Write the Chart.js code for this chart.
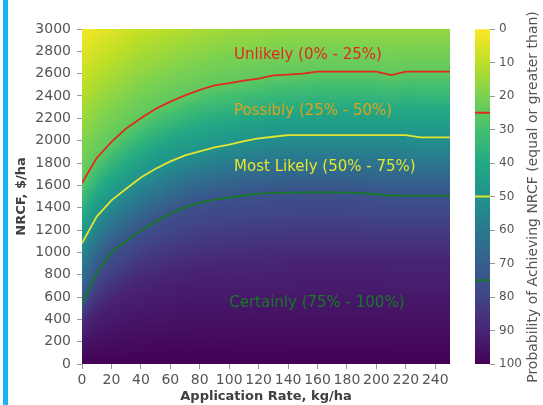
<!DOCTYPE html>
<html>
<head>
<meta charset="utf-8">
<script src="https://cdn.jsdelivr.net/npm/chart.js@4/dist/chart.umd.min.js"></script>
<style>
  html, body { margin: 0; padding: 0; background: #fff; }
  #wrap { position: relative; width: 543px; height: 405px; overflow: hidden; background: #fff; }
  #edge { position: absolute; left: 3px; top: 0; width: 5px; height: 405px; background: #17b6f3; }
  #main { position: absolute; left: 0; top: 0; }
  #cbar { position: absolute; left: 460px; top: 0; }
</style>
</head>
<body>
<div id="wrap">
  <div id="edge"></div>
  <canvas id="main" width="460" height="405"></canvas>
  <canvas id="cbar" width="83" height="405"></canvas>
</div>
<script>
// Application rate (kg/ha) at which each level curve is given
const RATE = [0, 10, 20, 30, 40, 50, 60, 70, 80, 90, 100, 110, 120, 130, 140, 150, 160, 170, 180, 190, 200, 210, 220, 230, 240, 250];

// NRCF ($/ha) reached with a given probability, per application rate
const NRCF_P25 = [1620, 1845, 1990, 2110, 2200, 2285, 2350, 2405, 2455, 2495, 2515, 2537, 2555, 2585, 2592, 2600, 2618, 2618, 2618, 2618, 2618, 2588, 2618, 2618, 2618, 2618];
const NRCF_P50 = [1080, 1320, 1465, 1570, 1670, 1748, 1815, 1868, 1905, 1940, 1965, 1995, 2020, 2035, 2050, 2050, 2050, 2050, 2050, 2050, 2050, 2050, 2050, 2030, 2030, 2030];
const NRCF_P75 = [543, 815, 1006, 1100, 1195, 1275, 1345, 1405, 1445, 1472, 1490, 1508, 1525, 1532, 1535, 1537, 1537, 1537, 1535, 1530, 1520, 1507, 1507, 1507, 1507, 1507];
const NRCF_P90 = [330, 470, 580, 660, 720, 770, 810, 840, 860, 875, 890, 900, 910, 915, 920, 925, 925, 925, 925, 925, 925, 920, 920, 920, 920, 920];
// Probability (%) of reaching the top of the NRCF axis (3000 $/ha)
const PROB_AT_TOP = [1, 3, 5, 7, 9, 10, 11, 12, 13, 14, 15, 15, 15, 16, 16, 16, 16, 16, 16, 16, 16, 16, 16, 16, 16, 16];

// Axis tick values
const X_TICKS = [0, 20, 40, 60, 80, 100, 120, 140, 160, 180, 200, 220, 240];
const Y_TICKS = [0, 200, 400, 600, 800, 1000, 1200, 1400, 1600, 1800, 2000, 2200, 2400, 2600, 2800, 3000];
const CBAR_TICKS = [0, 10, 20, 30, 40, 50, 60, 70, 80, 90, 100];

const X_MAX = 250, Y_MAX = 3000;

Chart.defaults.font.family = "'DejaVu Sans', sans-serif";

// viridis colour map, sampled every 0.1
const VIRIDIS = [
  [68, 1, 84], [72, 36, 117], [65, 68, 135], [53, 95, 141], [42, 120, 142],
  [33, 145, 140], [34, 168, 132], [68, 191, 112], [122, 209, 81], [189, 223, 38], [253, 231, 37]
];
// reversed viridis: 0 % -> yellow, 100 % -> dark purple
function viridisR(p) {
  const t = 1 - Math.max(0, Math.min(100, p)) / 100;
  const f = t * (VIRIDIS.length - 1);
  const i = Math.min(VIRIDIS.length - 2, Math.floor(f));
  const u = f - i;
  const a = VIRIDIS[i], b = VIRIDIS[i + 1];
  const c = a.map((v, k) => Math.round(v + (b[k] - v) * u));
  return `rgb(${c[0]},${c[1]},${c[2]})`;
}

// value of a level curve at an arbitrary rate
function curveAt(vals, x) {
  for (let i = 0; i < RATE.length - 1; i++) {
    if (x <= RATE[i + 1]) {
      const f = (x - RATE[i]) / (RATE[i + 1] - RATE[i]);
      return vals[i] + f * (vals[i + 1] - vals[i]);
    }
  }
  return vals[vals.length - 1];
}

// probability at an NRCF value, between the level curves of one column
function probAt(anchors, yv) {
  for (let i = 0; i < anchors.length - 1; i++) {
    const [y0, p0] = anchors[i], [y1, p1] = anchors[i + 1];
    if (yv <= y1) return p0 + (yv - y0) / (y1 - y0) * (p1 - p0);
  }
  return anchors[anchors.length - 1][1];
}

// filled probability field behind the contour lines
const fieldPlugin = {
  id: 'probabilityField',
  beforeDatasetsDraw(chart) {
    const { ctx, chartArea: a, scales: { x, y } } = chart;
    ctx.save();
    ctx.beginPath();
    ctx.rect(a.left, a.top, a.right - a.left, a.bottom - a.top);
    ctx.clip();
    const dx = 2, dy = 10;
    for (let xv = 0; xv < X_MAX; xv += dx) {
      const xc = xv + dx / 2;
      const anchors = [
        [0, 100],
        [curveAt(NRCF_P90, xc), 90],
        [curveAt(NRCF_P75, xc), 75],
        [curveAt(NRCF_P50, xc), 50],
        [curveAt(NRCF_P25, xc), 25],
        [Y_MAX, curveAt(PROB_AT_TOP, xc)]
      ];
      const px0 = Math.floor(x.getPixelForValue(xv));
      const px1 = Math.ceil(x.getPixelForValue(xv + dx));
      for (let yv = 0; yv < Y_MAX; yv += dy) {
        ctx.fillStyle = viridisR(probAt(anchors, yv + dy / 2));
        const py0 = Math.floor(y.getPixelForValue(yv + dy));
        const py1 = Math.ceil(y.getPixelForValue(yv));
        ctx.fillRect(px0, py0, px1 - px0, py1 - py0);
      }
    }
    ctx.restore();
  }
};

// zone labels placed in data coordinates
const ZONE_LABELS = [
  { text: 'Unlikely (0% - 25%)', x: 103.3, y: 2767, color: '#e02a1e' },
  { text: 'Possibly (25% - 50%)', x: 103.3, y: 2268, color: '#dea21c' },
  { text: 'Most Likely (50% - 75%)', x: 103.3, y: 1761, color: '#e6e62e' },
  { text: 'Certainly (75% - 100%)', x: 100, y: 549, color: '#167a24' }
];
const zoneLabelPlugin = {
  id: 'zoneLabels',
  afterDatasetsDraw(chart) {
    const { ctx, scales: { x, y } } = chart;
    ctx.save();
    ctx.font = "15px 'DejaVu Sans'";
    ctx.textAlign = 'left';
    ctx.textBaseline = 'middle';
    ZONE_LABELS.forEach(l => {
      ctx.fillStyle = l.color;
      ctx.fillText(l.text, x.getPixelForValue(l.x), y.getPixelForValue(l.y));
    });
    ctx.restore();
  }
};

const lineStyle = (label, vals, color) => ({
  label,
  data: RATE.map((r, i) => ({ x: r, y: vals[i] })),
  borderColor: color,
  borderWidth: 1.8,
  pointRadius: 0,
  fill: false,
  tension: 0
});

const plainNumber = v => String(v);

new Chart(document.getElementById('main'), {
  type: 'line',
  data: {
    datasets: [
      lineStyle('25%', NRCF_P25, '#e02a1e'),
      lineStyle('50%', NRCF_P50, '#e2e531'),
      lineStyle('75%', NRCF_P75, '#167a24')
    ]
  },
  options: {
    responsive: false,
    animation: false,
    layout: { padding: { left: 10, top: 29, right: 10, bottom: 0 } },
    plugins: { legend: { display: false }, tooltip: { enabled: false } },
    scales: {
      x: {
        type: 'linear', min: 0, max: X_MAX,
        afterBuildTicks(s) { s.ticks = X_TICKS.map(v => ({ value: v })); },
        afterFit(s) { s.height = 41; },
        ticks: { font: { size: 14 }, color: '#555', padding: 3, maxRotation: 0, callback: plainNumber },
        grid: { drawOnChartArea: false, tickLength: 5, color: '#999' },
        border: { display: false },
        title: { display: true, text: 'Application Rate, kg/ha', font: { size: 13, weight: 'bold' }, color: '#404040', padding: { top: 0, bottom: 1 } }
      },
      y: {
        type: 'linear', min: 0, max: Y_MAX,
        afterBuildTicks(s) { s.ticks = Y_TICKS.map(v => ({ value: v })); },
        afterFit(s) { s.width = 72; },
        ticks: { font: { size: 14 }, color: '#555', padding: 6, callback: plainNumber },
        grid: { drawOnChartArea: false, tickLength: 5, color: '#999' },
        border: { display: false },
        title: { display: true, text: 'NRCF, $/ha', font: { size: 13, weight: 'bold' }, color: '#404040', padding: { top: 4, bottom: 0 } }
      }
    }
  },
  plugins: [fieldPlugin, zoneLabelPlugin]
});

// colour bar: contour marks and rotated title
const CBAR_MARKS = [
  { p: 25, color: '#e02a1e' },
  { p: 50, color: '#e2e531' },
  { p: 75, color: '#167a24' }
];
const cbarPlugin = {
  id: 'cbarExtras',
  afterDatasetsDraw(chart) {
    const { ctx, chartArea: a, scales: { y } } = chart;
    ctx.save();
    ctx.lineWidth = 2;
    CBAR_MARKS.forEach(m => {
      const py = y.getPixelForValue(m.p);
      ctx.strokeStyle = m.color;
      ctx.beginPath();
      ctx.moveTo(a.left, py);
      ctx.lineTo(a.right, py);
      ctx.stroke();
    });
    ctx.restore();
  },
  afterDraw(chart) {
    const ctx = chart.ctx;
    ctx.save();
    ctx.translate(73, 197);
    ctx.rotate(-Math.PI / 2);
    ctx.font = "14px 'DejaVu Sans'";
    ctx.fillStyle = '#555';
    ctx.textAlign = 'center';
    ctx.textBaseline = 'middle';
    ctx.fillText('Probability of Achieving NRCF (equal or greater than)', 0, 0);
    ctx.restore();
  }
};

new Chart(document.getElementById('cbar'), {
  type: 'bar',
  data: {
    labels: ['P'],
    datasets: [{
      data: [100],
      backgroundColor(c) {
        const s = c.chart.scales.y;
        const top = s ? s.getPixelForValue(0) : NaN;
        const bottom = s ? s.getPixelForValue(100) : NaN;
        if (!Number.isFinite(top) || !Number.isFinite(bottom) || top === bottom) return viridisR(50);
        const g = c.chart.ctx.createLinearGradient(0, top, 0, bottom);
        for (let k = 0; k <= 20; k++) g.addColorStop(k / 20, viridisR(k * 5));
        return g;
      },
      borderWidth: 0,
      barPercentage: 1,
      categoryPercentage: 1
    }]
  },
  options: {
    responsive: false,
    animation: false,
    layout: { padding: { left: 15, top: 29, bottom: 41, right: 0 } },
    plugins: { legend: { display: false }, tooltip: { enabled: false } },
    scales: {
      x: { display: false },
      y: {
        position: 'right', min: 0, max: 100, reverse: true,
        afterBuildTicks(s) { s.ticks = CBAR_TICKS.map(v => ({ value: v })); },
        afterFit(s) { s.width = 53; },
        ticks: { font: { size: 12 }, color: '#555', padding: 4, callback: plainNumber },
        grid: { drawOnChartArea: false, tickLength: 5, color: '#999' },
        border: { display: false }
      }
    }
  },
  plugins: [cbarPlugin]
});
</script>
</body>
</html>
